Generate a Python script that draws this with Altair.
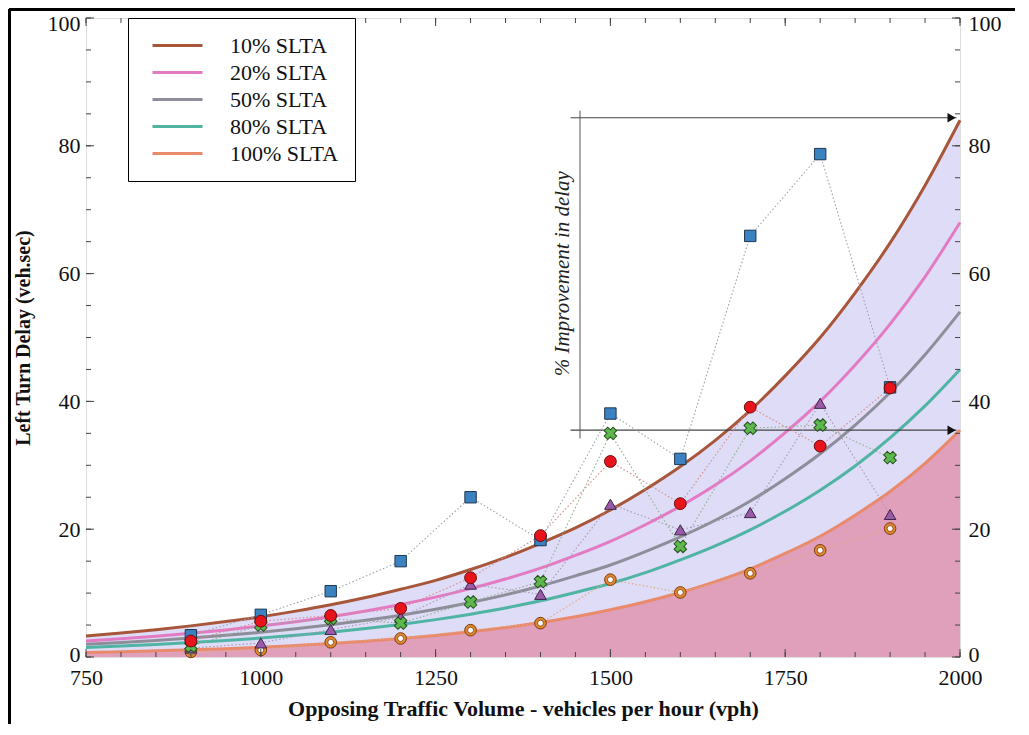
import altair as alt
import pandas as pd

# ---------------- data ----------------
curve_x = [750, 800, 850, 900, 950, 1000, 1050, 1100, 1150, 1200, 1250, 1300, 1350,
           1400, 1450, 1500, 1550, 1600, 1650, 1700, 1750, 1800, 1850, 1900, 1950, 2000]
slta_labels = ["10% SLTA", "20% SLTA", "50% SLTA", "80% SLTA", "100% SLTA"]
slta_colors = ["#a8563a", "#e37bc4", "#8e8e9a", "#50b4a4", "#e98a6c"]
c10 = [3.3, 3.76, 4.28, 4.87, 5.54, 6.30, 7.18, 8.17, 9.30, 10.6, 12.0, 13.7, 15.6,
       17.8, 20.2, 23.0, 26.2, 29.8, 33.9, 38.6, 44.0, 50.0, 57.0, 64.8, 73.8, 84.0]
c20 = [2.5, 2.85, 3.26, 3.72, 4.24, 4.84, 5.52, 6.30, 7.19, 8.21, 9.37, 10.7, 12.2,
       13.9, 15.9, 18.1, 20.7, 23.6, 26.9, 30.7, 35.1, 40.0, 45.7, 52.1, 59.5, 68.0]
c50 = [2.0, 2.28, 2.60, 2.97, 3.39, 3.86, 4.41, 5.03, 5.74, 6.55, 7.47, 8.52, 9.72,
       11.1, 12.7, 14.4, 16.5, 18.8, 21.4, 24.4, 27.9, 31.8, 36.3, 41.4, 47.3, 54.0]
c80 = [1.5, 1.72, 1.97, 2.26, 2.59, 2.96, 3.39, 3.89, 4.45, 5.10, 5.85, 6.70, 7.67,
       8.79, 10.1, 11.5, 13.2, 15.2, 17.4, 19.9, 22.8, 26.1, 29.9, 34.3, 39.3, 45.0]
c100 = [0.70, 0.82, 0.96, 1.12, 1.31, 1.53, 1.80, 2.10, 2.46, 2.88, 3.37, 3.94, 4.61,
        5.40, 6.31, 7.39, 8.64, 10.1, 11.8, 13.8, 16.2, 18.9, 22.2, 25.9, 30.3, 35.5]

pts_x = [900, 1000, 1100, 1200, 1300, 1400, 1500, 1600, 1700, 1800, 1900]
blue_sq = [3.4, 6.6, 10.3, 15.0, 25.0, 18.3, 38.1, 31.0, 65.9, 78.7, 42.2]
orange_ring = [0.8, 1.1, 2.3, 2.9, 4.2, 5.3, 12.1, 10.1, 13.1, 16.7, 20.1]
purple_tri = [1.4, 2.2, 4.3, 6.2, 11.4, 9.8, 23.9, 19.9, 22.6, 39.7, 22.3]
green_x = [1.7, 5.0, 6.0, 5.3, 8.6, 11.8, 35.0, 17.3, 35.8, 36.3, 31.2]
red_circ = [2.5, 5.6, 6.5, 7.6, 12.4, 19.0, 30.6, 24.0, 39.1, 33.0, 42.1]

arrow_y = [84.4, 35.5]
arrow_x = [1443, 1995]
vline_x = [1456.5]
vline_y = [34.2, 85.5]
annot_text = ["% Improvement in delay"]
annot_pos = [1432, 60.0]

x_tick_labels = [750, 1000, 1250, 1500, 1750, 2000]
x_minor = [750, 800, 850, 900, 950, 1000, 1050, 1100, 1150, 1200, 1250, 1300, 1350,
           1400, 1450, 1500, 1550, 1600, 1650, 1700, 1750, 1800, 1850, 1900, 1950, 2000]
y_tick_labels = [0, 20, 40, 60, 80, 100]
y_minor = [0, 5, 10, 15, 20, 25, 30, 35, 40, 45, 50, 55, 60, 65, 70, 75, 80, 85, 90, 95, 100]

# ---------------- setup ----------------
W, H = 874, 639
FONT = "Liberation Serif"
xs = alt.Scale(domain=[750, 2000], nice=False, zero=False)
ys = alt.Scale(domain=[0, 100], nice=False, zero=False)

wide = pd.DataFrame({"x": curve_x, "top": c10, "bot": c100})
long = pd.concat([
    pd.DataFrame({"x": curve_x, "y": vals, "series": lab, "order": i})
    for i, (lab, vals) in enumerate(zip(slta_labels, [c10, c20, c50, c80, c100]))
])

X = lambda f="x": alt.X(f"{f}:Q", scale=xs, axis=None)
Y = lambda f="y": alt.Y(f"{f}:Q", scale=ys, axis=None)

area_pink = alt.Chart(wide).mark_area(color="#e0a0bb", opacity=1, interpolate="monotone").encode(
    x=X(), y=Y("bot"), y2=alt.datum(0))
area_lav = alt.Chart(wide).mark_area(color="#dedcf6", opacity=1, interpolate="monotone").encode(
    x=X(), y=Y("top"), y2="bot:Q")

curves = alt.Chart(long).mark_line(strokeWidth=3, interpolate="monotone").encode(
    x=alt.X("x:Q", scale=xs,
            axis=alt.Axis(values=x_tick_labels, format="d", title="Opposing Traffic Volume - vehicles per hour (vph)",
                          ticks=False, domain=False, grid=False, labelFlush=False, labelFont=FONT,
                          labelFontSize=22, labelColor="#111", labelPadding=10, titleFont=FONT,
                          titleFontSize=22, titleFontWeight="bold", titleColor="#111", titlePadding=10)),
    y=Y(),
    color=alt.Color("series:N", scale=alt.Scale(domain=slta_labels, range=slta_colors),
                    legend=alt.Legend(orient="none", legendX=42, legendY=0, title=None,
                                      strokeColor="black", fillColor="white", padding=16,
                                      labelFont=FONT, labelFontSize=22, labelColor="#111",
                                      symbolType="M-2.5,0H2.5", symbolSize=400, symbolStrokeWidth=3,
                                      symbolOffset=22, labelOffset=41, rowPadding=4)),
    order="order:Q",
)

# annotation lines & arrows
arr_df = pd.DataFrame({"y": arrow_y, "x1": arrow_x[0], "x2": arrow_x[1]})
arrows = alt.Chart(arr_df).mark_rule(color="#444", strokeWidth=1.1).encode(
    x=X("x1"), x2="x2:Q", y=Y())
heads = alt.Chart(pd.DataFrame({"y": arrow_y, "x": [arrow_x[1] - 7] * 2})).mark_point(
    shape="triangle-right", filled=True, color="#111", size=90, opacity=1).encode(x=X(), y=Y())
vline = alt.Chart(pd.DataFrame({"x": vline_x, "y1": [vline_y[0]], "y2": [vline_y[1]]})).mark_rule(
    color="#555", strokeWidth=1).encode(x=X(), y=Y("y1"), y2="y2:Q")
annot = alt.Chart(pd.DataFrame({"x": [annot_pos[0]], "y": [annot_pos[1]], "t": annot_text})).mark_text(
    angle=270, font=FONT, fontSize=21, fontStyle="italic", color="#222", align="center",
    baseline="middle").encode(x=X(), y=Y(), text="t:N")

# data series
series = [
    ("blue", blue_sq, "#9aa3ad", dict(shape="square", fill="#3a82c0", stroke="#1d3550", size=130)),
    ("orange", orange_ring, "#e3a77e", dict(shape="circle", fill="#e3872d", stroke="#7a3d10", size=135)),
    ("purple", purple_tri, "#a898b4", dict(shape="triangle-up", fill="#9a5aa8", stroke="#3d2448", size=135)),
    ("green", green_x, "#8fae8f", dict(shape="cross", fill="#5cb84c", stroke="#25501e", size=160, angle=45)),
    ("red", red_circ, "#d58a8a", dict(shape="circle", fill="#e8141c", stroke="#6a0c0c", size=140)),
]
dot_layers, mark_layers = [], []
for name, vals, lc, style in series:
    d = pd.DataFrame({"x": pts_x, "y": vals})
    dot_layers.append(alt.Chart(d).mark_line(color=lc, strokeWidth=1.1, strokeDash=[1.5, 2.2]).encode(
        x=X(), y=Y()))
    mark_layers.append(alt.Chart(d).mark_point(filled=True, opacity=1, strokeWidth=1, **style).encode(
        x=X(), y=Y()))
    if name == "orange":
        mark_layers.append(alt.Chart(d).mark_point(shape="circle", filled=True, fill="white", stroke="#7a3d10",
                                                   strokeWidth=0.8, size=35, opacity=1).encode(x=X(), y=Y()))

# ticks (inward)
ymaj = pd.DataFrame({"v": y_tick_labels})
ymin = pd.DataFrame({"v": y_minor})
xmaj = pd.DataFrame({"v": x_tick_labels})
xmin = pd.DataFrame({"v": x_minor})
TC = "#444"
end_shift = {"condition": [{"test": "datum.value == 100", "value": 5},
                           {"test": "datum.value == 0", "value": -3}], "value": 0}
left_axis = alt.Chart(ymaj).mark_rule(color=TC).encode(
    y=alt.Y("v:Q", scale=ys, axis=alt.Axis(values=y_tick_labels, title="Left Turn Delay (veh.sec)",
                                           ticks=False, domain=False, grid=False, labelFlush=False,
                                           labelFont=FONT, labelFontSize=22, labelColor="#111",
                                           labelPadding=6, labelOffset=end_shift,
                                           titleFont=FONT, titleFontSize=20, titleFontWeight="bold",
                                           titleColor="#111", titlePadding=14)),
    x=alt.value(0), x2=alt.value(8))
right_axis = alt.Chart(ymaj).mark_rule(color=TC).encode(
    y=alt.Y("v:Q", scale=ys, axis=alt.Axis(orient="right", values=y_tick_labels, title=None,
                                           ticks=False, domain=False, grid=False, labelFlush=False,
                                           labelFont=FONT, labelFontSize=22, labelColor="#111",
                                           labelPadding=8, labelOffset=end_shift)),
    x=alt.value(W), x2=alt.value(W - 8))
ticks = [
    alt.Chart(ymin).mark_rule(color=TC).encode(y=Y("v"), x=alt.value(0), x2=alt.value(5)),
    alt.Chart(ymin).mark_rule(color=TC).encode(y=Y("v"), x=alt.value(W), x2=alt.value(W - 5)),
    alt.Chart(xmin).mark_rule(color=TC).encode(x=X("v"), y=alt.value(H), y2=alt.value(H - 5)),
    alt.Chart(xmin).mark_rule(color=TC).encode(x=X("v"), y=alt.value(0), y2=alt.value(5)),
    alt.Chart(xmaj).mark_rule(color=TC).encode(x=X("v"), y=alt.value(H), y2=alt.value(H - 8)),
    alt.Chart(xmaj).mark_rule(color=TC).encode(x=X("v"), y=alt.value(0), y2=alt.value(8)),
]

# outer figure frame (left and top edges)
frame = [
    alt.Chart(ymaj).mark_rule(color="black", strokeWidth=2.5).encode(
        x=alt.value(-76.5), y=alt.value(-9), y2=alt.value(H + 80)),
    alt.Chart(ymaj).mark_rule(color="black", strokeWidth=2.5).encode(
        x=alt.value(-77), x2=alt.value(W + 80), y=alt.value(-8.5)),
]

chart = alt.layer(
    area_pink, area_lav, curves, arrows, vline, heads, *dot_layers, *mark_layers, annot,
    left_axis, right_axis, *ticks, *frame
).resolve_axis(x="independent", y="independent").properties(
    width=W, height=H,
    autosize=alt.AutoSizeParams(type="none"),
    padding={"left": 78, "top": 10, "right": 55, "bottom": 67},
).configure_view(stroke="#333", strokeWidth=1).configure(background="white")

chart.save("out.html", embed_options={"renderer": "svg", "actions": False})
